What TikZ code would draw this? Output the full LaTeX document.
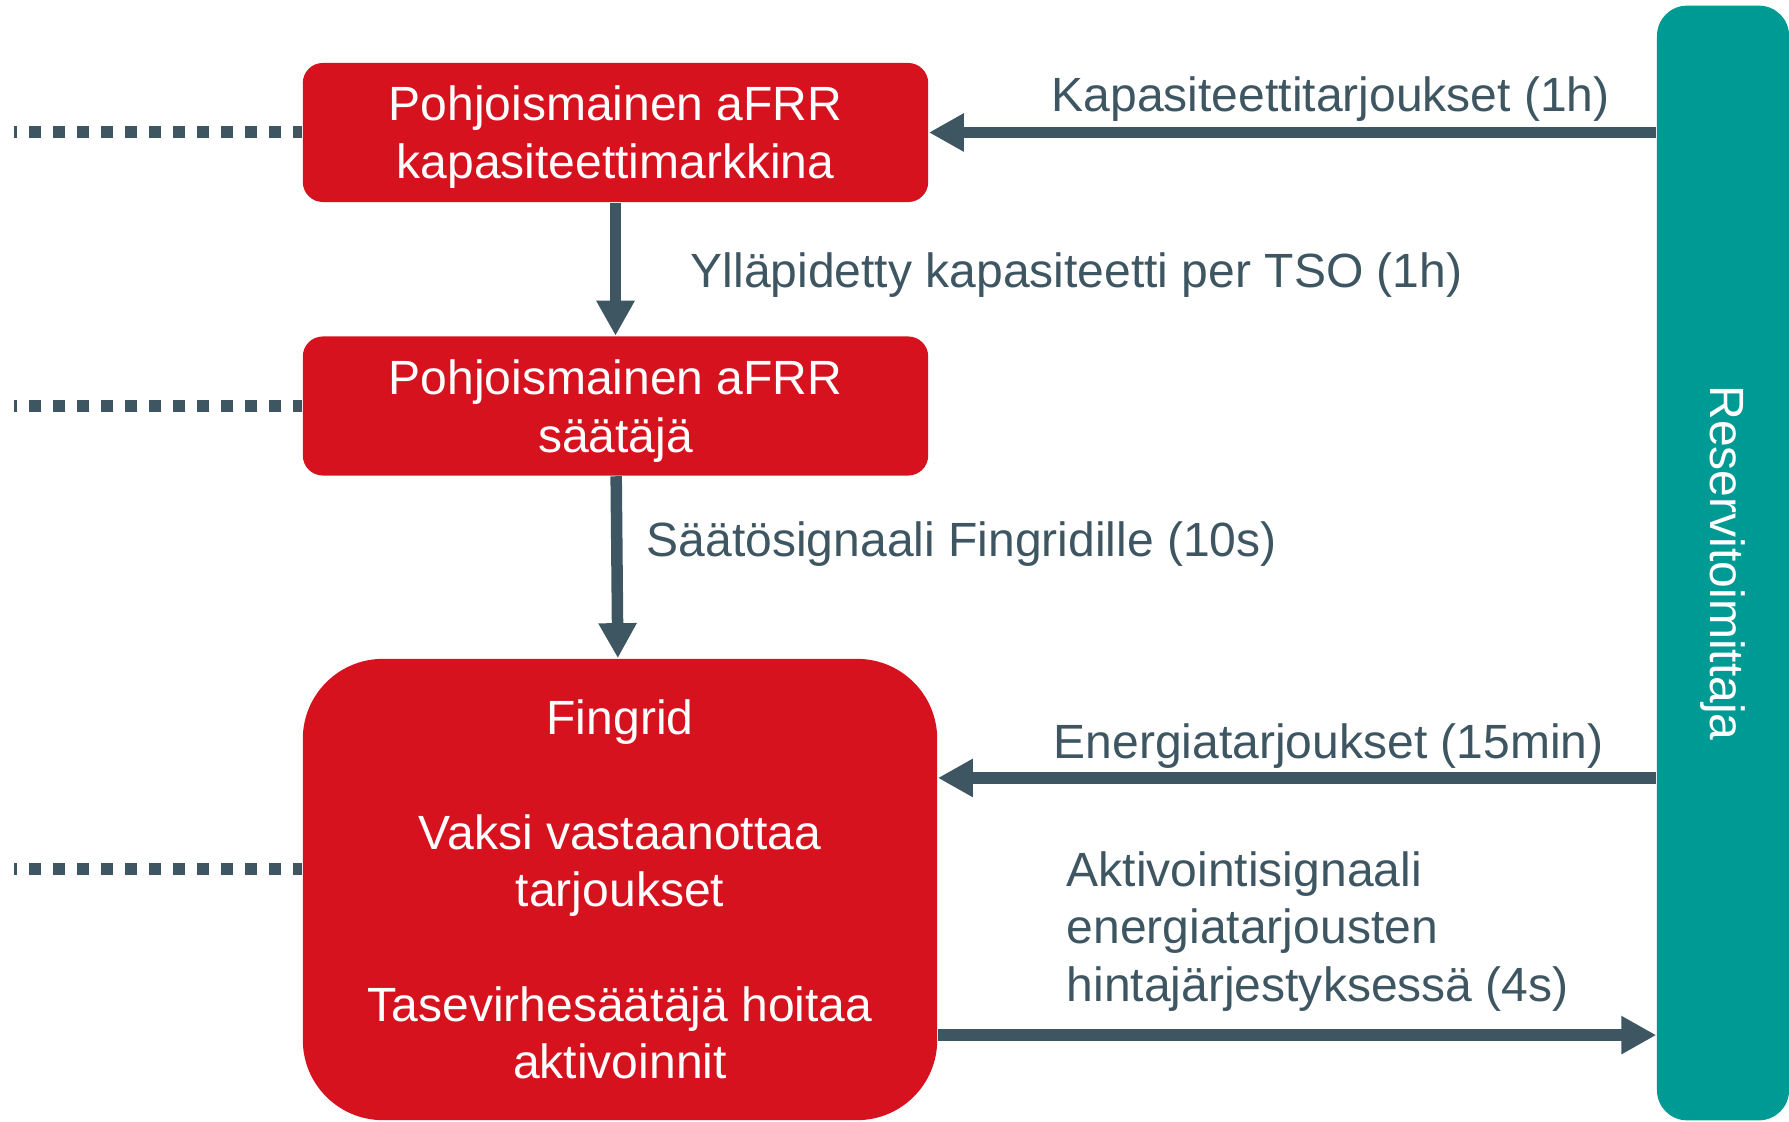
\documentclass[tikz,border=0pt]{standalone}
\usepackage{fontspec}
\setmainfont{Liberation Sans}
\usepackage{xcolor}
\usetikzlibrary{arrows.meta}
\definecolor{fgred}{HTML}{D7121F}
\definecolor{fgteal}{HTML}{009A94}
\definecolor{fgslate}{HTML}{3E5662}

\begin{document}
\begin{tikzpicture}
		[
		x=0.01cm, y=-0.01cm,
		every node/.style={font=\fontsize{13.66pt}{16.3pt}\selectfont, inner sep=0pt},
		redbox/.style={fill=fgred, text=white, align=center, text depth=0pt, rounded corners=0.2cm, minimum width=6.25cm, minimum height=1.39cm},
		flow/.style={draw=fgslate, line width=0.115cm, -{Triangle[length=0.35cm,width=0.36cm]}},
		dots/.style={draw=fgslate, line width=0.12cm, dash pattern=on 0.12cm off 0.12cm, dash phase=0.09cm},
		lbl/.style={text=fgslate, align=left}
		]
		\useasboundingbox (0,0) rectangle (1789,1122);
		\node[redbox, font=\fontsize{13.66pt}{16.5pt}\selectfont] (market) at (615.5,132.5) {Pohjoismainen aFRR\\kapasiteettimarkkina};
		\node[redbox, font=\fontsize{13.66pt}{16.5pt}\selectfont] (ctrl) at (615.5,406) {Pohjoismainen aFRR\\säätäjä};
		\node[redbox, rounded corners=0.8cm, minimum width=6.34cm, minimum height=4.61cm] (fingrid) at (620,889.5)
			{Fingrid\\[16.3pt]Vaksi vastaanottaa\\tarjoukset\\[16.3pt]Tasevirhesäätäjä hoitaa\\aktivoinnit};
		\node[fill=fgteal, rounded corners=0.3cm, minimum width=1.32cm, minimum height=11.14cm] (supplier) at (1723,563) {};
		\node[text=white, rotate=-90] (supplierlbl) at (supplier.center) {Reservitoimittaja};
		% connectors
		\coordinate (edge) at (14,0);
		\coordinate (bidin) at ([yshift=1.115cm]fingrid.east);
		\coordinate (actout) at ([yshift=-1.455cm]fingrid.east);
		\coordinate (fgleft) at ([yshift=0.205cm]fingrid.west);
		\draw[flow] (market.east -| supplier.west) -- (market.east);
		\draw[flow] (market) -- (ctrl);
		\draw[flow] (ctrl) -- (fingrid);
		\draw[flow] (bidin -| supplier.west) -- (bidin);
		\draw[flow] (actout) -- (actout -| supplier.west);
		\draw[dots] (market.west -| edge) -- (market.west);
		\draw[dots] (ctrl.west -| edge) -- (ctrl.west);
		\draw[dots] (fgleft -| edge) -- (fgleft);
		% labels
		\node[lbl, anchor=base west] (capbids) at (1051,112) {Kapasiteettitarjoukset (1h)};
		\node[lbl, anchor=base west] (capheld) at (690,288) {Ylläpidetty kapasiteetti per TSO (1h)};
		\node[lbl, anchor=base west] (signal) at (646,556) {Säätösignaali Fingridille (10s)};
		\node[lbl, anchor=base west] (energybids) at (1053,758) {Energiatarjoukset (15min)};
		\node[lbl, anchor=north west] (activation) at (1066,851) {Aktivointisignaali\\energiatarjousten\\hintajärjestyksessä (4s)};
\end{tikzpicture}
\end{document}
